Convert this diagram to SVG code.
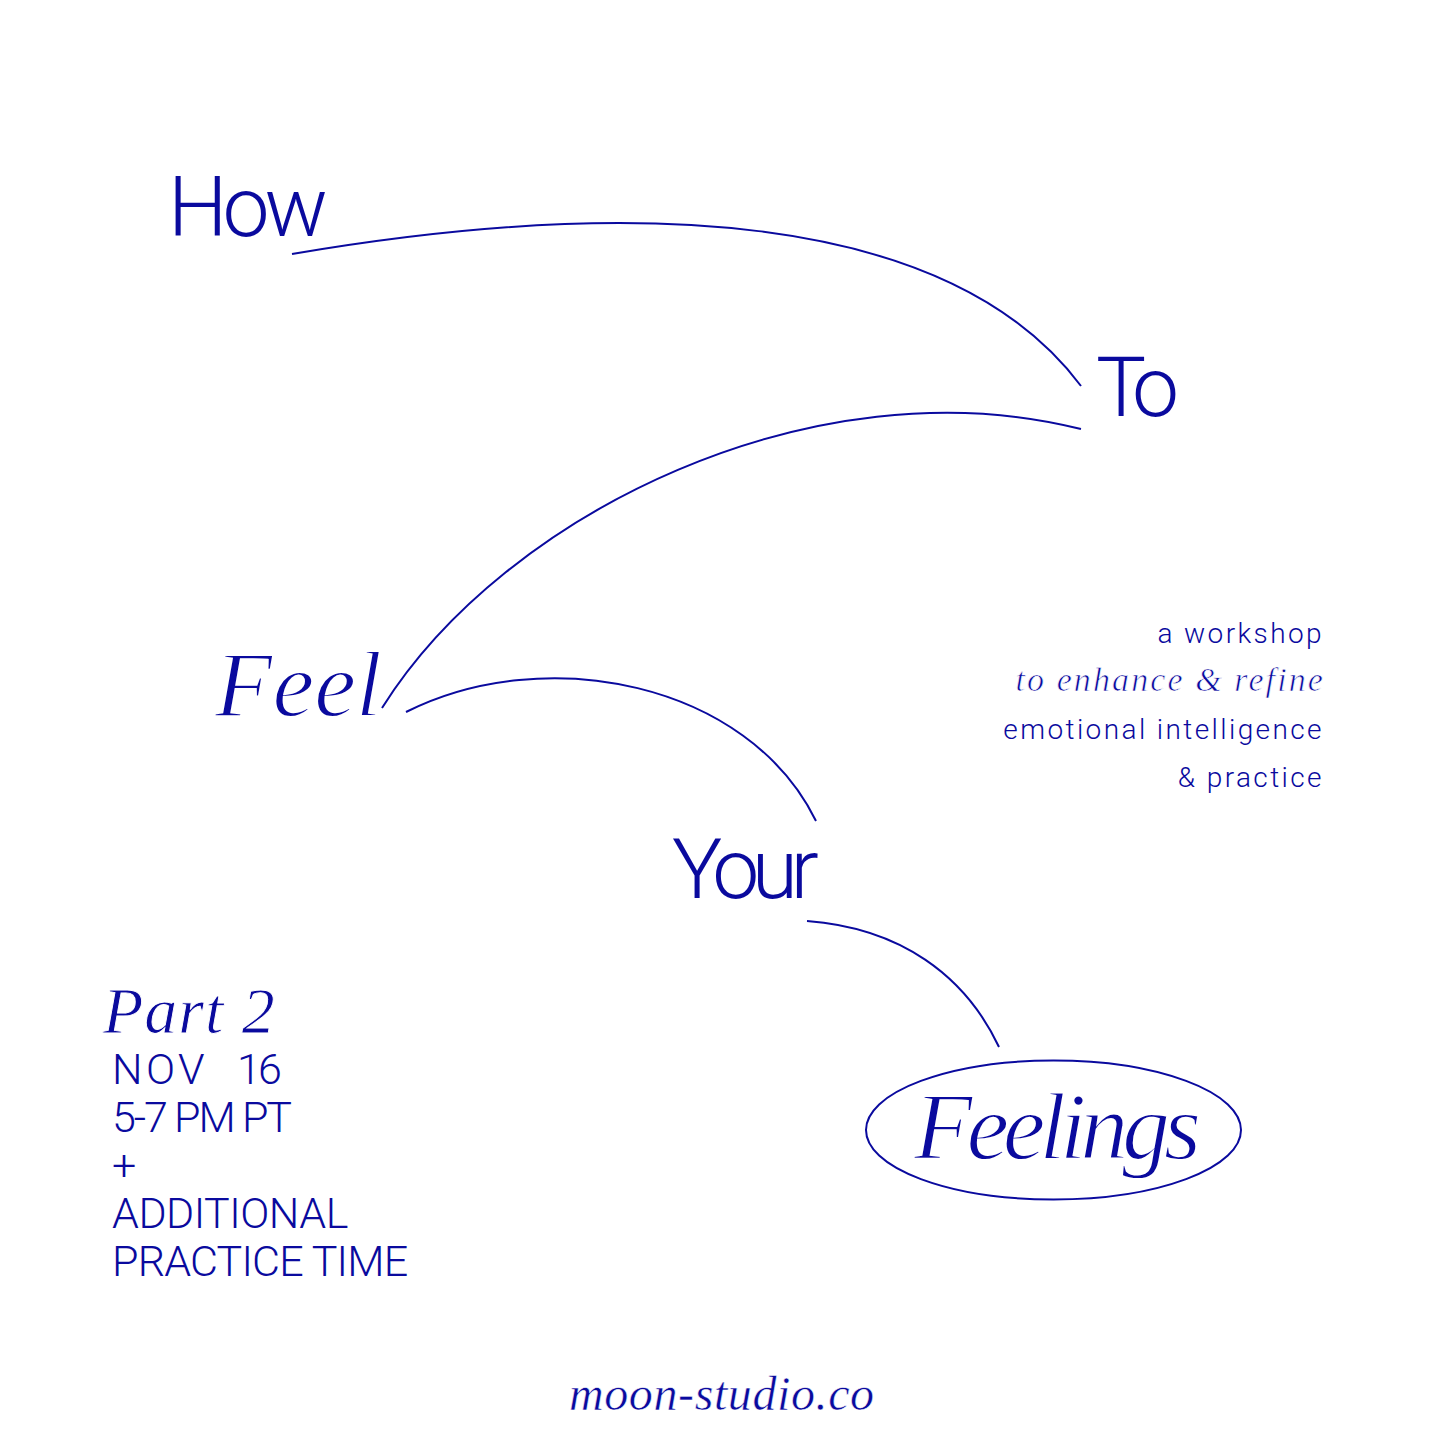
<svg xmlns="http://www.w3.org/2000/svg" width="1445" height="1444" viewBox="0 0 1445 1444">
<style>
.c{fill:none;stroke:#0a0a9e;stroke-width:2}
text{fill:#0a0a9e}
.s{font-family:"Roboto","Liberation Sans",Arial,sans-serif;font-weight:300}
.i{font-family:"Liberation Serif","Times New Roman",serif;font-style:italic;stroke:#fff}
.h{font-size:84px;letter-spacing:-5px}
.d{font-size:43px;letter-spacing:-1px}
.r{font-size:28px;letter-spacing:2.4px;text-anchor:end}
</style>
<rect width="1445" height="1444" fill="#fff"/>
<g id="connectors">
<path class="c" d="M292 254C620 198 945 205 1081 386"/>
<path class="c" d="M382 708C505 512 815 362 1081 429"/>
<path class="c" d="M406 712C545 642 748 682 816 821"/>
<path class="c" d="M807 921C900 928 965 975 999 1047"/>
</g>
<g id="node-how"><text class="s h" x="168" y="236">How</text></g>
<g id="node-to"><text class="s h" x="1096" y="416" style="letter-spacing:-10px">To</text></g>
<g id="node-feel"><text class="i" x="215" y="716" font-size="94" stroke-width="1.8">Feel</text></g>
<g id="node-your"><text class="s h" x="672" y="898" style="letter-spacing:-7.500px">Your</text></g>
<g id="node-feelings"><ellipse class="c" cx="1053.500" cy="1130" rx="187.500" ry="69.500"/><text class="i" x="914" y="1159" font-size="96" letter-spacing="-6.200" stroke-width="1.8">Feelings</text></g>
<g id="description">
<text class="s r" x="1324" y="643">a workshop</text>
<text class="i r" x="1325" y="691" stroke-width="0.7" style="font-size:34px;letter-spacing:2.100px">to enhance &amp; refine</text>
<text class="s r" x="1324" y="739">emotional intelligence</text>
<text class="s r" x="1324" y="787">&amp; practice</text>
</g>
<g id="details">
<text class="i" x="103" y="1033" font-size="66" letter-spacing="1" stroke-width="0.9">Part 2</text>
<text class="s d" x="112 146 178 208 237 258" y="1084">NOV 16</text>
<text class="s d" x="112" y="1132" style="letter-spacing:-2.100px">5-7 PM PT</text>
<text class="s d" x="112" y="1180">+</text>
<text class="s d" x="112" y="1228" style="letter-spacing:-0.500px">ADDITIONAL</text>
<text class="s d" x="112" y="1276" style="letter-spacing:-0.800px">PRACTICE TIME</text>
</g>
<g id="footer"><text class="i" x="569" y="1410" font-size="48" letter-spacing="0.600" stroke-width="0.5">moon-studio.co</text></g>
</svg>
